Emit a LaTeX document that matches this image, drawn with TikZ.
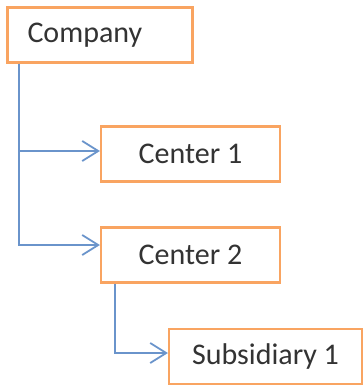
\documentclass[tikz,border=0pt]{standalone}
\usepackage{fontspec}
\setmainfont{Carlito}
\usetikzlibrary{arrows.meta}
\definecolor{boxorange}{HTML}{F9A461}
\definecolor{linkblue}{HTML}{6A94CB}
\definecolor{txtgray}{HTML}{333333}
\begin{document}
\begin{tikzpicture}[x=1pt,y=-1pt,
  box/.style={draw=boxorange, line width=2.2pt, fill=white, minimum height=55pt, inner sep=0pt, font=\fontsize{30}{36}\selectfont, text=txtgray},
  link/.style={draw=linkblue, line width=1.8pt, -{Straight Barb[length=16pt,width=20pt,line width=1.8pt]}}]
\useasboundingbox (0,0) rectangle (363,387);
\node[box, minimum width=185pt, text width=145pt, align=left] (co) at (100,35) {Company};
\node[box, minimum width=179pt] (c1) at (190.5,154) {Center 1};
\node[box, minimum width=179pt] (c2) at (190.5,255) {Center 2};
\node[box, minimum width=193pt] (s1) at (265.5,356.5) {Subsidiary 1};
\coordinate (cotrunk) at ([xshift=12.5pt]co.south west);
\coordinate (c2trunk) at ([xshift=15pt]c2.south west);
\draw[link] (cotrunk) |- ([yshift=3pt]c1.west);
\draw[link] (cotrunk) |- ([yshift=10pt]c2.west);
\draw[link] (c2trunk) |- ([yshift=3.5pt]s1.west);
\end{tikzpicture}
\end{document}
